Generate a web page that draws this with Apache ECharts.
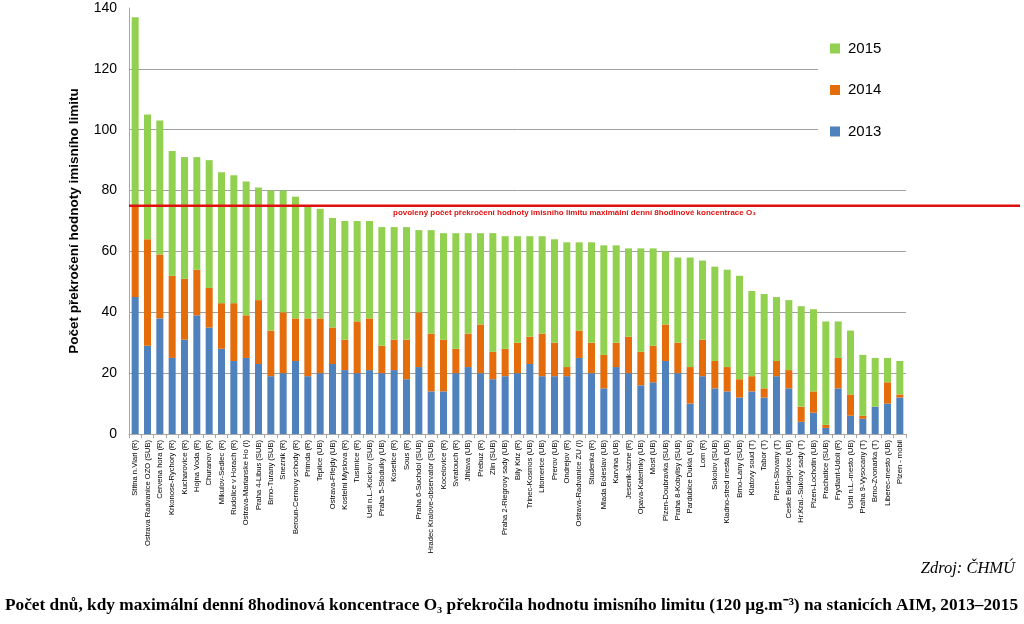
<!DOCTYPE html>
<html><head><meta charset="utf-8">
<script src="https://cdn.jsdelivr.net/npm/echarts@6/dist/echarts.min.js"></script>
<style>html,body{margin:0;padding:0;background:#fff}#c{width:1024px;height:624px}</style>
</head><body><div id="c"></div>
<script>
var stations = ["Stitna n.Vlari (R)","Ostrava Radvanice OZO (SUB)","Cervena hora (R)","Krkonose-Rychory (R)","Kucharovice (R)","Hojna Voda (R)","Churanov (R)","Mikulov-Sedlec (R)","Rudolice v Horach (R)","Ostrava-Marianske Ho (I)","Praha 4-Libus (SUB)","Brno-Turany (SUB)","Sneznik (R)","Beroun-Cernovy schody (R)","Primda (R)","Teplice (UB)","Ostrava-Fifejdy (UB)","Kostelni Myslova (R)","Tusimice (R)","Usti n.L.-Kockov (SUB)","Praha 5-Stodulky (UB)","Kosetice (R)","Sous (R)","Praha 6-Suchdol (SUB)","Hradec Kralove-observator (SUB)","Kocelovice (R)","Svratouch (R)","Jihlava (UB)","Prebuz (R)","Zlin (SUB)","Praha 2-Riegrovy sady (UB)","Bily Kriz (R)","Trinec-Kosmos (UB)","Litomerice (UB)","Prerov (UB)","Ondrejov (R)","Ostrava-Radvanice ZU (I)","Studenka (R)","Mlada Boleslav (UB)","Karvina (UB)","Jesenik-lazne (R)","Opava-Katerinky (UB)","Most (UB)","Plzen-Doubravka (SUB)","Praha 8-Kobylisy (SUB)","Pardubice Dukla (UB)","Lom (R)","Sokolov (SUB)","Kladno-stred mesta (UB)","Brno-Lany (SUB)","Klatovy soud (T)","Tabor (T)","Plzen-Slovany (T)","Ceske Budejovice (UB)","Hr.Kral.-Sukovy sady (T)","Plzen-Lochotin (UB)","Prachatice (SUB)","Frydlant-Udoli (R)","Usti n.L.-mesto (UB)","Praha 9-Vysocany (T)","Brno-Zvonarka (T)","Liberec-mesto (UB)","Plzen - mobil"];
var y2013 = [45,29,38,25,31,39,35,28,24,25,23,19,20,24,19,20,23,21,20,21,20,21,18,22,14,14,20,22,20,18,19,20,23,19,19,19,25,20,15,22,20,16,17,24,20,10,19,15,14,12,14,12,19,15,4,7,2,15,6,5,9,10,12];
var y2014 = [30,35,21,27,20,15,13,15,19,14,21,15,20,14,19,18,12,10,17,17,9,10,13,18,19,17,8,11,16,9,9,10,9,14,11,3,9,10,11,8,12,11,12,12,10,12,12,9,8,6,5,3,5,6,5,7,1,10,7,1,0,7,1];
var y2015 = [62,41,44,41,40,37,42,43,42,44,37,46,40,40,37,36,36,39,33,32,39,37,37,27,34,35,38,33,30,39,37,35,33,32,34,41,29,33,36,32,29,34,32,24,28,36,26,31,32,34,28,31,21,23,33,27,34,12,21,20,16,8,11];
var yTicks = [0,20,40,60,80,100,120,140];
var limitValue = 75;

var chart = echarts.init(document.getElementById('c'), null, {renderer:'canvas'});
var colors = {'2013':'#4F81BD','2014':'#E46C0A','2015':'#92D050'};
function ser(name, data){
  return {name:name, type:'bar', stack:'s', data:data, barWidth:7, itemStyle:{color:colors[name]}, animation:false};
}
var option = {
  animation:false,
  backgroundColor:'#fff',
  grid:{left:129, right:118, top:8, bottom:190},
  legend:{
    data:['2015','2014','2013'], orient:'vertical', left:818, top:29,
    itemWidth:10, itemHeight:10, icon:'rect', itemGap:26.5,
    backgroundColor:'#fff', padding:[12,64,16,12],
    textStyle:{fontFamily:'Liberation Sans, Arial', fontSize:15, color:'#000', padding:[0,0,0,3]}
  },
  xAxis:{
    type:'category', data:stations,
    axisLine:{lineStyle:{color:'#a6a6a6'}},
    axisTick:{show:true, length:4, lineStyle:{color:'#a6a6a6'}},
    axisLabel:{rotate:90, interval:0, fontSize:7.6, fontFamily:'Liberation Sans, Arial', color:'#000', margin:6}
  },
  yAxis:{
    type:'value', min:yTicks[0], max:yTicks[yTicks.length-1], interval:20,
    name:'Počet překročení hodnoty imisního limitu', nameLocation:'middle', nameGap:48,
    nameTextStyle:{fontFamily:'Liberation Sans, Arial', fontWeight:'bold', fontSize:13.5, color:'#000'},
    axisLine:{show:true, lineStyle:{color:'#a6a6a6'}},
    axisTick:{show:false},
    splitLine:{showMaxLine:false, lineStyle:{color:'#a0a0a0'}},
    axisLabel:{fontFamily:'Liberation Sans, Arial', fontSize:14, color:'#000', margin:12}
  },
  series:[ser('2013',y2013), ser('2014',y2014), ser('2015',y2015)]
};
chart.setOption(option);
var yPix = chart.convertToPixel({yAxisIndex:0}, limitValue);
chart.setOption({graphic:[
  {type:'line', shape:{x1:129, y1:yPix, x2:1020, y2:yPix}, style:{stroke:'#E01010', lineWidth:2.5}, z:100},
  {type:'text', left:393, top:yPix+3, style:{text:'povolený počet překročení hodnoty imisního limitu maximální denní 8hodinové koncentrace O₃', fill:'#E01010', font:'bold 8px Liberation Sans, Arial'}, z:100},
  {type:'text', right:9, top:560, style:{text:'Zdroj: ČHMÚ', fill:'#000', font:'italic 16.5px Liberation Serif, Times New Roman'}},
  {type:'text', left:5, top:597, style:{text:'Počet dnů, kdy maximální denní 8hodinová koncentrace O₃ překročila hodnotu imisního limitu (120 µg.m⁻³) na stanicích AIM, 2013–2015', fill:'#000', font:'bold 17.3px Liberation Serif, Times New Roman'}}
]});
</script></body></html>
